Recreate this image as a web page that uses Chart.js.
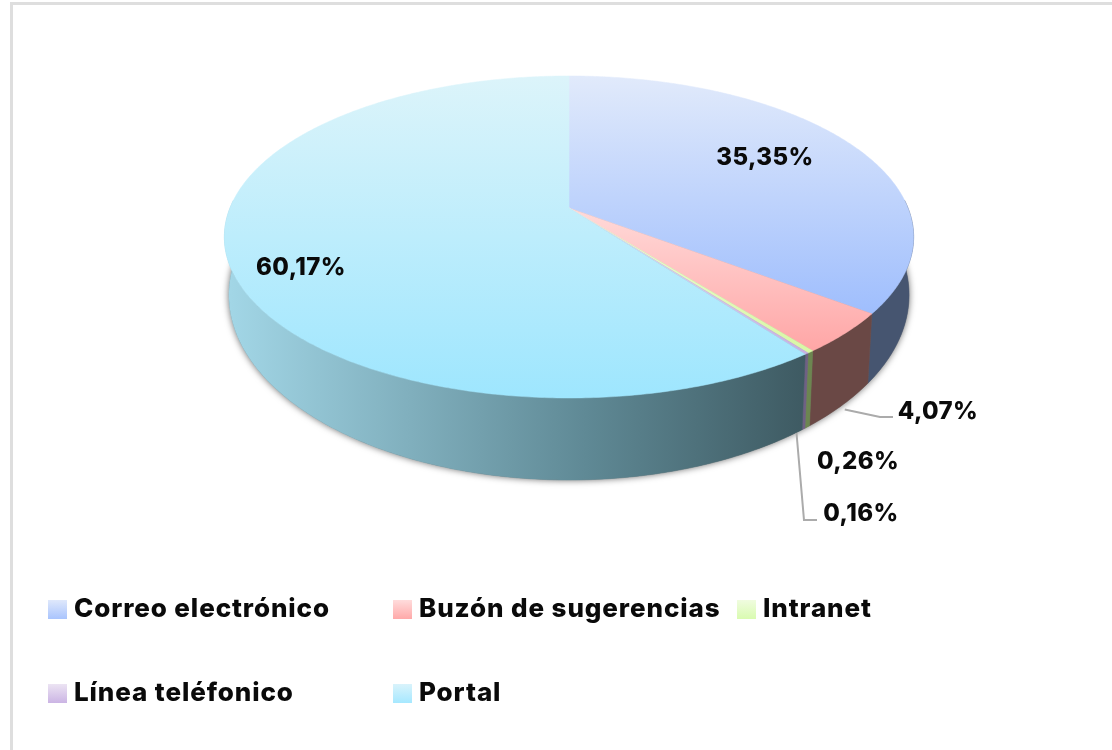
<!DOCTYPE html>
<html>
<head>
<meta charset="utf-8">
<title>Canales</title>
<script src="https://cdn.jsdelivr.net/npm/chart.js@4"></script>
<style>
html, body { margin: 0; padding: 0; background: #fff; }
#wrap { position: relative; width: 1112px; height: 750px; overflow: hidden; }
#frameTop { position: absolute; left: 10px; top: 2px; right: 0; height: 3px; background: #dedede; }
#frameLeft { position: absolute; left: 10px; top: 2px; bottom: 0; width: 3px; background: #dedede; }
canvas { position: absolute; left: 0; top: 0; }
.lg { position: absolute; font: 800 26px Inter, sans-serif; letter-spacing: 0.9px; color: #0a0a0a; white-space: nowrap; line-height: 30px; }
.sw { position: absolute; width: 19px; height: 19px; }
</style>
</head>
<body>
<div id="wrap">
    <div id="frameTop"></div>
    <div id="frameLeft"></div>
    <canvas id="cPie" width="1112" height="750"></canvas>
</div>
<script>
const labels = ['Correo electrónico', 'Buzón de sugerencias', 'Intranet', 'Línea teléfonico', 'Portal'];
const values = [35.35, 4.07, 0.26, 0.16, 60.17];
const valueText = ['35,35%', '4,07%', '0,26%', '0,16%', '60,17%'];

// top face gradient: top colour, bottom colour
const topColors = [['#e1eafb', '#9fbefd'], ['#ffdad9', '#ffa6a6'], ['#f0fcd8', '#d8f8a4'], ['#e6dcf0', '#c8b0e2'], ['#dcf4fa', '#9ee6fe']];
// wall gradient: left, middle, right
const wallColors = [['#4c5d7c', '#4a5a76', '#465570'], ['#744e4b', '#704c49', '#6a4845'], ['#748f58', '#708a54', '#6c8650'], ['#75668a', '#726387', '#6f6084'], ['#a2d6e6', '#5f8995', '#3e5a62']];
const swatchColors = [['#dfe8fb', '#a9c4fd'], ['#ffdcdc', '#ffa9a9'], ['#f0fce0', '#d9fbb0'], ['#ece4f3', '#cbb4e4'], ['#d9f3fb', '#a6e8ff']];

// label centres and legend slots
const labelPos = [[765, 158], [938, 412], [858, 462], [861, 514], [301, 268]];
const legendPos = [[48, 600], [393, 600], [737, 600], [48, 684], [393, 684]];

// perspective of the disc
const A = 339, B = 155.8, P = 0.18;
const A2 = 334.5, B2 = 179, DROP = 53.7;
const FRONT_MIN = -0.05, FRONT_MAX = Math.PI + 0.05;

function rim(arc, t, low) {
    const d = 1 - P * Math.sin(t);
    const a = low ? A2 : A, b = low ? B2 : B;
    return [arc.x + a * Math.cos(t) / d, arc.y + (low ? DROP : 0) + b * Math.sin(t) / d];
}

function arcPts(arc, from, to, low) {
    const n = Math.max(2, Math.ceil(Math.abs(to - from) / 0.01));
    const pts = [];
    for (let i = 0; i <= n; i++) pts.push(rim(arc, from + (to - from) * i / n, low));
    return pts;
}

function trace(ctx, pts) {
    ctx.beginPath();
    pts.forEach((p, i) => i ? ctx.lineTo(p[0], p[1]) : ctx.moveTo(p[0], p[1]));
    ctx.closePath();
}

function vGrad(ctx, y0, y1, c) {
    const g = ctx.createLinearGradient(0, y0, 0, y1);
    g.addColorStop(0, c[0]);
    g.addColorStop(1, c[1]);
    return g;
}

function leader(ctx, from, pts) {
    ctx.beginPath();
    ctx.moveTo(from[0], from[1]);
    pts.forEach(p => ctx.lineTo(p[0], p[1]));
    ctx.stroke();
}

const disc3d = {
    id: 'disc3d',
    beforeDatasetDraw(chart) {
        const ctx = chart.ctx;
        const arcs = chart.getDatasetMeta(0).data;
        const first = arcs[0];
        const full = first.startAngle + Math.PI * 2;

        // soft shadow round the body
        ctx.save();
        ctx.shadowColor = 'rgba(0,0,0,0.6)';
        ctx.shadowBlur = 7;
        ctx.fillStyle = '#777';
        trace(ctx, arcPts(first, first.startAngle, full, true));
        ctx.fill();
        ctx.restore();

        // walls, front part only
        arcs.forEach((arc, i) => {
            const from = Math.max(arc.startAngle, FRONT_MIN);
            const to = Math.min(arc.endAngle, FRONT_MAX);
            const pts = arcPts(arc, from, to, false).concat(arcPts(arc, to, from, true));
            const g = ctx.createLinearGradient(230, 0, 805, 0);
            g.addColorStop(0, wallColors[i][0]);
            g.addColorStop(0.62, wallColors[i][1]);
            g.addColorStop(1, wallColors[i][2]);
            trace(ctx, pts);
            ctx.fillStyle = g;
            ctx.strokeStyle = g;
            ctx.lineWidth = 0.5;
            ctx.fill();
            ctx.stroke();
        });

        // top faces
        arcs.forEach((arc, i) => {
            const pts = [[arc.x, arc.y]].concat(arcPts(arc, arc.startAngle, arc.endAngle, false));
            const ys = pts.map(p => p[1]);
            const g = vGrad(ctx, Math.min(...ys), Math.max(...ys), topColors[i]);
            trace(ctx, pts);
            ctx.fillStyle = g;
            ctx.strokeStyle = g;
            ctx.lineWidth = 0.5;
            ctx.fill();
            ctx.stroke();
        });

        // leader lines
        ctx.strokeStyle = '#ababab';
        ctx.lineWidth = 2;
        const a1 = arcs[1], a3 = arcs[3];
        const p1 = rim(a1, (a1.startAngle + a1.endAngle) / 2, true);
        leader(ctx, [p1[0] + 3, p1[1] + 4], [[880, 417], [893, 417]]);
        const p3 = rim(a3, (a3.startAngle + a3.endAngle) / 2, true);
        leader(ctx, [p3[0] - 7, p3[1] + 4], [[804, 520], [817, 520]]);

        // value labels
        ctx.fillStyle = '#0a0a0a';
        ctx.font = '800 24px Inter, sans-serif';
        ctx.letterSpacing = '0.4px';
        ctx.textAlign = 'center';
        ctx.textBaseline = 'middle';
        valueText.forEach((t, i) => ctx.fillText(t, labelPos[i][0], labelPos[i][1]));
        return false;
    }
};

new Chart(document.getElementById('cPie').getContext('2d'), {
    type: 'pie',
    data: { labels, datasets: [{ data: values, backgroundColor: topColors.map(c => c[1]), borderWidth: 0 }] },
    options: {
        responsive: false, animation: false, events: [],
        layout: { padding: { top: 58, bottom: 392, left: 419, right: 393 } },
        plugins: { legend: { display: false }, tooltip: { enabled: false } }
    },
    plugins: [disc3d]
});

// legend in two rows, fixed slots
const wrap = document.getElementById('wrap');
labels.forEach((name, i) => {
    const [x, y] = legendPos[i];
    const sw = document.createElement('div');
    sw.className = 'sw';
    sw.style.left = x + 'px';
    sw.style.top = y + 'px';
    sw.style.background = `linear-gradient(${swatchColors[i][0]}, ${swatchColors[i][1]})`;
    wrap.appendChild(sw);
    const t = document.createElement('div');
    t.className = 'lg';
    t.textContent = name;
    t.style.left = (x + 26) + 'px';
    t.style.top = (y - 7) + 'px';
    wrap.appendChild(t);
});
</script>
</body>
</html>
